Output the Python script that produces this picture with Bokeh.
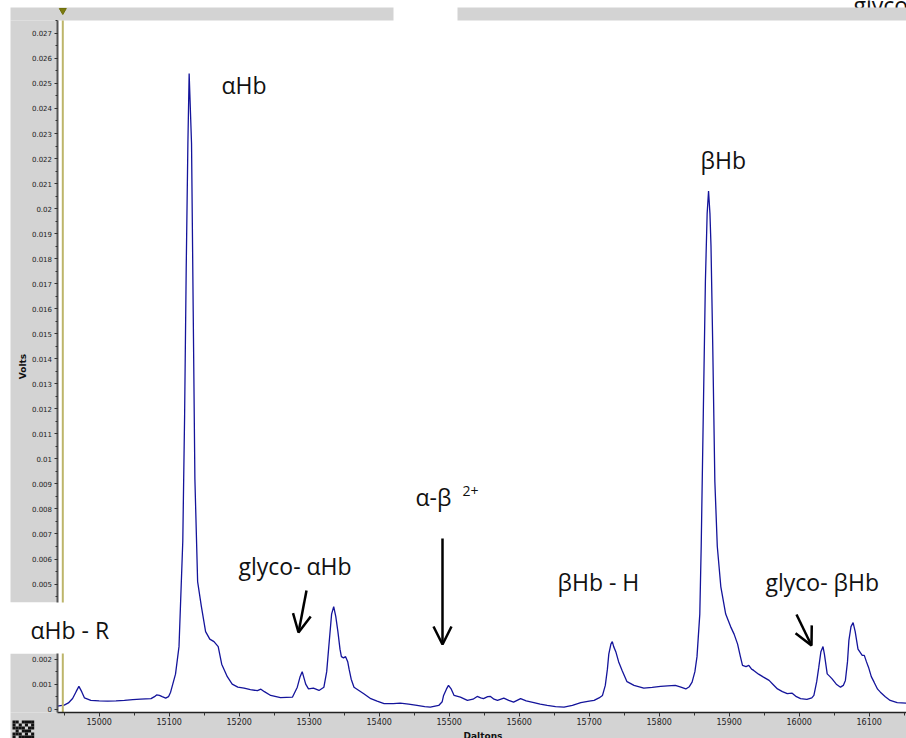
import math
from bokeh.plotting import figure
from bokeh.models import (Range1d, FixedTicker, NumeralTickFormatter, BoxAnnotation,
                          Label, Arrow, OpenHead)
from bokeh.core.properties import value
from bokeh.embed import file_html
from bokeh.resources import INLINE

# ---------------- data ----------------
daltons = [14940, 14950, 14956, 14962, 14967, 14971, 14975, 14979, 14988, 15000,
           15012, 15024, 15036, 15048, 15059, 15074, 15079, 15082, 15086, 15090,
           15095, 15099, 15102, 15109, 15114, 15119.4, 15122, 15124.3, 15126.7, 15128.5,
           15131.9, 15134.3, 15136.7, 15140.6, 15146, 15152, 15158, 15164, 15170, 15175,
           15183, 15190, 15198, 15207, 15216, 15226, 15231, 15236, 15245, 15259,
           15276, 15283, 15287, 15290, 15293, 15295, 15299, 15306, 15314, 15321,
           15325, 15328, 15332, 15335, 15338, 15341, 15344, 15346, 15349, 15352,
           15355, 15357, 15360, 15364, 15371, 15378, 15388, 15397, 15407, 15420,
           15430, 15442, 15454, 15465, 15473, 15485, 15490, 15492, 15496, 15499,
           15503, 15507, 15516, 15526, 15534, 15540, 15545, 15549, 15555, 15559,
           15564, 15569, 15574, 15578, 15585, 15592, 15597, 15602, 15610, 15621,
           15630, 15640, 15652, 15664, 15676, 15688, 15700, 15707, 15714, 15719,
           15723, 15726, 15728, 15731, 15733, 15735, 15738, 15742, 15747, 15754,
           15764, 15778, 15790, 15802, 15812, 15823, 15831, 15838, 15843, 15847,
           15851, 15854, 15858, 15860, 15863, 15866, 15868.5, 15870.5, 15872.5, 15874,
           15876.5, 15879.5, 15883, 15888, 15895, 15902, 15907, 15912, 15916, 15919,
           15924, 15928, 15932, 15935, 15942, 15949, 15957, 15963, 15969, 15976,
           15983, 15990, 15996, 16002, 16011, 16018, 16021, 16025, 16028, 16031,
           16034, 16036, 16040, 16044, 16047, 16053, 16059, 16063, 16066, 16069,
           16071, 16074, 16077, 16080, 16084, 16090, 16093, 16096, 16099, 16103,
           16107, 16112, 16116, 16123, 16130, 16140, 16153]
volts = [0.00012, 0.00016, 0.00025, 0.00043, 0.0007, 0.00091, 0.0007, 0.00045, 0.00035, 0.00033,
         0.00032, 0.00033, 0.00035, 0.00038, 0.0004, 0.00042, 0.0005, 0.00057, 0.00055, 0.0005,
         0.00044, 0.0005, 0.00068, 0.0014, 0.0025, 0.0067, 0.0117, 0.0176, 0.0226, 0.0254,
         0.0226, 0.0159, 0.0092, 0.0051, 0.0041, 0.0031, 0.0028, 0.0027, 0.0025, 0.0018,
         0.0013, 0.0010, 0.00088, 0.00084, 0.00078, 0.00074, 0.0008, 0.0007, 0.00055, 0.00046,
         0.00048, 0.00088, 0.0013, 0.0015, 0.0012, 0.001, 0.00081, 0.00084, 0.00075, 0.00088,
         0.0015, 0.0025, 0.0038, 0.0041, 0.0037, 0.0031, 0.0024, 0.0021, 0.00205, 0.0021,
         0.0019, 0.0016, 0.0012, 0.00088, 0.00075, 0.00062, 0.00042, 0.00032, 0.00022, 0.00022,
         0.00024, 0.0002, 0.00015, 0.0001, 0.00008, 0.00015, 0.0003, 0.00055, 0.0008, 0.00095,
         0.0008, 0.00055, 0.00048, 0.00035, 0.0004, 0.00051, 0.00045, 0.00042, 0.0005, 0.00051,
         0.0004, 0.00035, 0.0004, 0.00044, 0.00035, 0.00028, 0.00035, 0.00042, 0.00033, 0.00026,
         0.0002, 0.00015, 0.0001, 0.00008, 0.00015, 0.00026, 0.00032, 0.00035, 0.00045, 0.00055,
         0.00095, 0.0016, 0.0022, 0.0026, 0.0027, 0.0025, 0.0023, 0.0019, 0.00155, 0.0011,
         0.00095, 0.00084, 0.00087, 0.00091, 0.00093, 0.00095, 0.00088, 0.00081, 0.0009, 0.00108,
         0.0015, 0.0021, 0.0038, 0.0065, 0.0118, 0.0171, 0.0198, 0.0207, 0.0198, 0.0185,
         0.0145, 0.0091, 0.0065, 0.0049, 0.0038, 0.0033, 0.0030, 0.0026, 0.0021, 0.00175,
         0.0017, 0.00175, 0.0016, 0.00155, 0.0014, 0.00128, 0.00115, 0.00098, 0.00081, 0.0007,
         0.00062, 0.00064, 0.0005, 0.00042, 0.00039, 0.00045, 0.00055, 0.0011, 0.00168, 0.0023,
         0.0025, 0.0022, 0.00141, 0.0013, 0.00121, 0.001, 0.00088, 0.00095, 0.00115, 0.0019,
         0.00275, 0.0033, 0.00346, 0.0031, 0.0024, 0.00215, 0.00215, 0.0019, 0.00168, 0.0013,
         0.00108, 0.0008, 0.00068, 0.0005, 0.00035, 0.00026, 0.00024]

x_ticks = [15000, 15100, 15200, 15300, 15400, 15500, 15600, 15700, 15800, 15900, 16000, 16100]
x_minor = [14950 + 50 * i for i in range(25)]
y_ticks = [round(0.001 * i, 3) for i in range(28)]
y_minor = [round(0.0005 * i, 4) for i in range(56)]
cursor_dalton = 14948

W, H = 906, 738

# pixel -> data helpers (calibrated on the tick positions of the screenshot)
def D(px):
    return 15000 + (px - 98.7) / 0.7

def V(py):
    return (708.7 - py) * 0.001 / 25.03

p = figure(width=W, height=H, output_backend="svg", toolbar_location=None,
           x_range=Range1d(D(0), D(W)), y_range=Range1d(V(H), V(0)),
           min_border_left=0, min_border_right=0, min_border_top=0, min_border_bottom=0,
           background_fill_color="white", border_fill_color="white")
p.title.visible = False
p.outline_line_color = None
p.grid.visible = False

GRAY = "#d3d3d3"

# partially visible heading at the very top right
p.text(x=[D(853)], y=[V(4)], text=["glyco"], text_font=value("Open Sans"),
       text_font_size="23px", text_color="#111111", text_baseline="alphabetic")

# grey frame of the screenshot (top band with a gap, left band with a gap, bottom band)
p.quad(left=[D(10), D(457), D(10), D(10), D(10)],
       right=[D(393), D(W), D(57), D(57), D(W)],
       top=[V(7), V(7), V(20), V(653), V(712)],
       bottom=[V(20), V(20), V(602), V(712), V(H)],
       fill_color=GRAY, line_color=None)

# small QR-like badge in the bottom-left corner
qr_rows = ["1101111",
           "1010101",
           "1111011",
           "0101110",
           "1110101",
           "1011111"]
qx, qy, qw, qh = [], [], [], []
for r, row in enumerate(qr_rows):
    for c, ch in enumerate(row):
        if ch == "1":
            qx.append(D(12 + c * 3.1 + 1.55)); qy.append(V(720 + r * 3 + 1.5))
p.rect(x=qx, y=qy, width=3.1 * (D(1) - D(0)), height=3 * (V(0) - V(1)),
       fill_color="#111111", line_color=None)

# spectrum
p.line(daltons, volts, line_color="#14149b", line_width=1.3)

# cursor
p.segment(x0=[cursor_dalton], y0=[V(712)], x1=[cursor_dalton], y1=[V(20)],
          line_color="#bdb56a", line_width=2)
p.scatter(x=[cursor_dalton], y=[V(10)], marker="inverted_triangle", size=7,
          fill_color="#7a7a10", line_color="#6e6e08")

# axes drawn at fixed locations
xa = p.xaxis[0]
xa.fixed_location = V(712)
xa.bounds = (D(57), D(W))
xa.ticker = FixedTicker(ticks=x_ticks, minor_ticks=x_minor)
xa.formatter = NumeralTickFormatter(format="0")
xa.major_label_text_font = "DejaVu Sans"
xa.major_label_text_font_size = "8px"
xa.major_label_text_color = "#222222"
xa.major_tick_in = 0
xa.major_tick_out = 4
xa.minor_tick_in = 0
xa.minor_tick_out = 3
xa.major_label_standoff = 1
xa.axis_line_color = "#222222"
xa.axis_line_width = 1.5
xa.major_tick_line_color = "#333333"
xa.minor_tick_line_color = "#333333"

ya = p.yaxis[0]
ya.fixed_location = D(56.5)
ya.bounds = (V(712), V(20))
ya.ticker = FixedTicker(ticks=y_ticks, minor_ticks=y_minor)
ya.formatter = NumeralTickFormatter(format="0.[000]")
ya.major_label_text_font = "DejaVu Sans"
ya.major_label_text_font_size = "7px"
ya.major_label_text_color = "#222222"
ya.major_tick_in = 0
ya.major_tick_out = 3
ya.minor_tick_in = 0
ya.minor_tick_out = 2
ya.major_label_standoff = 2
ya.axis_line_color = "#555555"
ya.axis_line_width = 2
ya.major_tick_line_color = "#333333"
ya.minor_tick_line_color = "#333333"

# white text box of the screenshot covering part of the left band
p.add_layout(BoxAnnotation(left=D(-5), right=D(80), top=V(602), bottom=V(653),
                           fill_color="white", fill_alpha=1, line_color=None))

# axis titles
p.add_layout(Label(x=D(482.5), y=V(730.5), text="Daltons", text_font="DejaVu Sans",
                   text_font_style="bold", text_font_size="9px", text_color="#111111",
                   text_align="center", text_baseline="top"))
p.add_layout(Label(x=D(22.7), y=V(366), text="Volts", text_font="DejaVu Sans",
                   text_font_style="bold", text_font_size="9px", text_color="#111111",
                   text_align="center", text_baseline="middle", angle=math.pi / 2))

# peak annotations
FONT = "Open Sans"
for txt, px, py in [("\u03b1Hb", 221, 84), ("\u03b2Hb", 700, 159), ("\u03b1-\u03b2", 415, 496),
                    ("glyco- \u03b1Hb", 238, 565), ("\u03b2Hb - H", 557, 581),
                    ("glyco- \u03b2Hb", 765, 581), ("\u03b1Hb - R", 30, 629)]:
    p.add_layout(Label(x=D(px), y=V(py), text=txt, text_font=FONT, text_font_size="23px",
                       text_color="#111111", text_align="left", text_baseline="alphabetic"))
p.add_layout(Label(x=D(462), y=V(490), text="2+", text_font=FONT, text_font_size="14px",
                   text_color="#111111", text_align="left", text_baseline="alphabetic"))

# arrows
for (x1, y1, x2, y2) in [(306, 590, 298, 632), (442, 538, 442, 644), (796, 614, 811, 645)]:
    p.add_layout(Arrow(x_start=D(x1), y_start=V(y1), x_end=D(x2), y_end=V(y2),
                       line_width=2.5, line_color="black",
                       end=OpenHead(size=18, line_width=2.5, line_color="black")))

open("out.html", "w").write(file_html(p, INLINE))
